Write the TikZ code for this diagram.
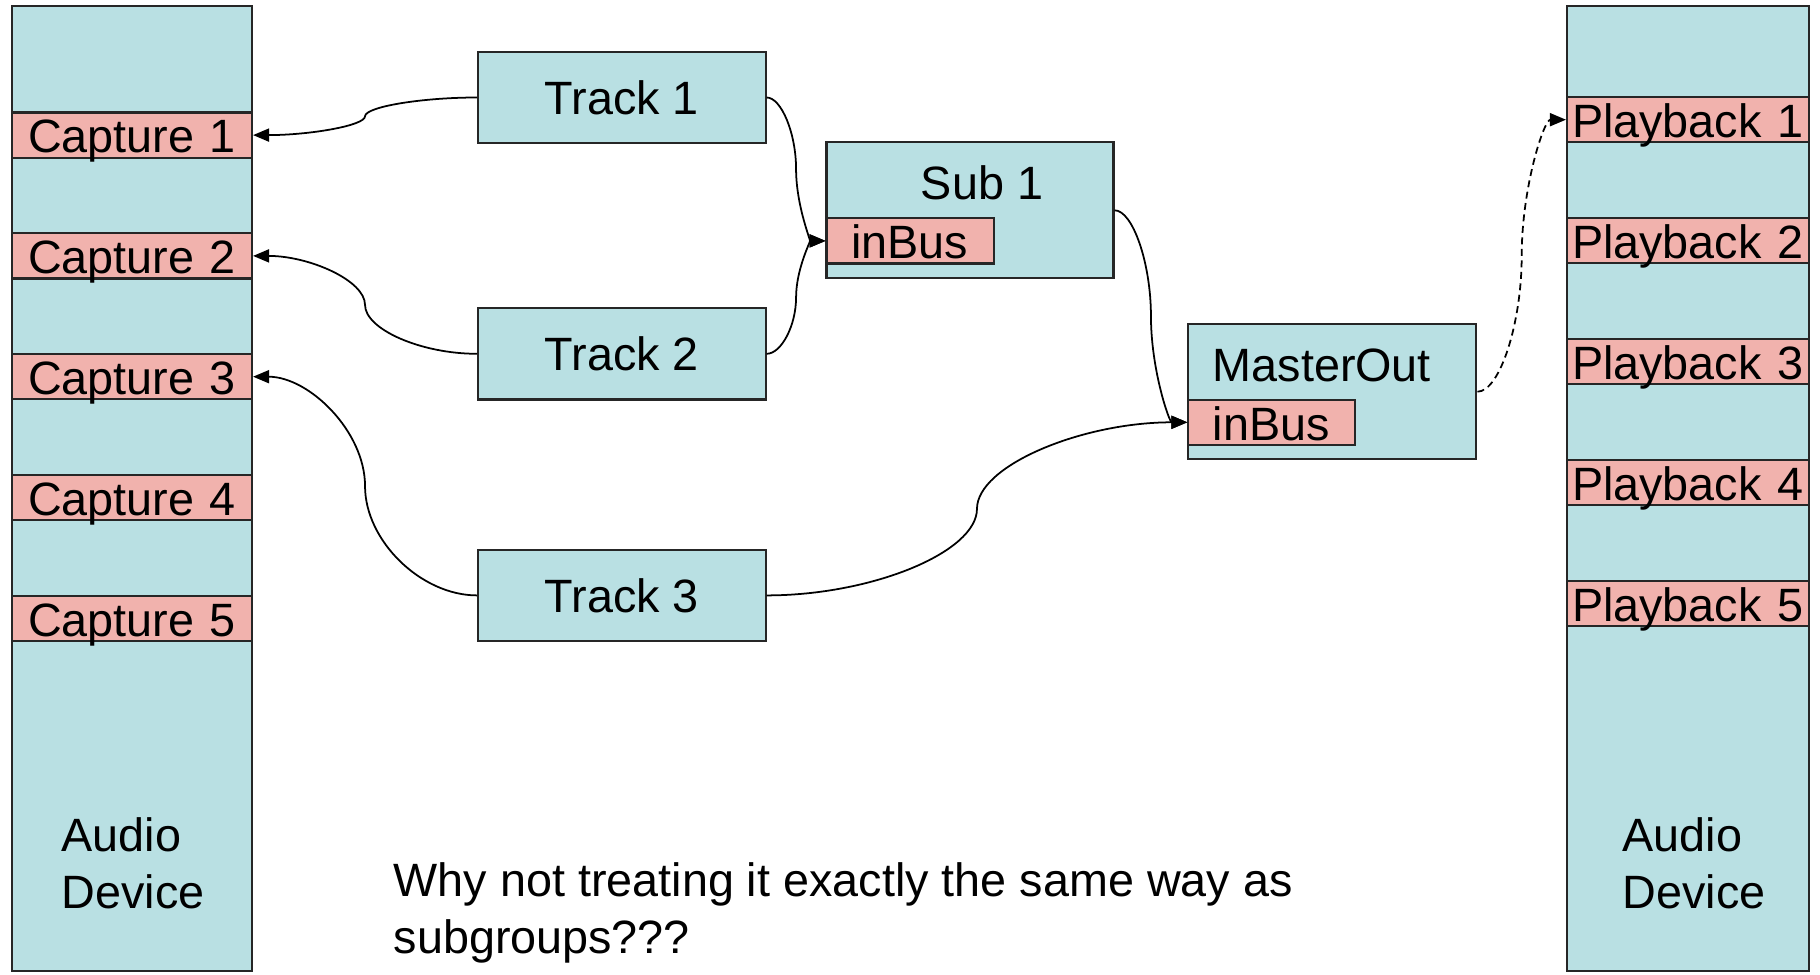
\documentclass[tikz,border=0pt]{standalone}
\usepackage{fontspec}
\setmainfont{Liberation Sans}
\usetikzlibrary{arrows.meta,calc}
\definecolor{devblue}{RGB}{185,224,227}
\definecolor{portpink}{RGB}{241,178,173}
\tikzset{
blockbox/.style={
  draw=black!85,line width=0.6pt,fill=devblue,inner sep=0pt},
trackbox/.style={
  blockbox,minimum width=28.75mm,minimum height=9.15mm},
portbox/.style={
  draw=black!85,line width=0.6pt,fill=portpink,inner ysep=0pt,
  minimum height=4.53mm,text height=3.55mm,text depth=0pt,align=left},
caption/.style={inner sep=0pt,align=left},
wire/.style={
  line width=0.5pt,-{Triangle[length=1.6mm,width=1.3mm]},
  to path={let \p1=(\tikztostart),\p2=(\tikztotarget) in
    .. controls ({0.75*\x1+0.25*\x2},\y1) and ({0.5*\x1+0.5*\x2},{0.75*\y1+0.25*\y2})
    .. ({0.5*\x1+0.5*\x2},{0.5*\y1+0.5*\y2})
    .. controls ({0.5*\x1+0.5*\x2},{0.25*\y1+0.75*\y2}) and ({0.25*\x1+0.75*\x2},\y2)
    .. (\tikztotarget)}}}
\begin{document}
\begin{tikzpicture}[x=0.1mm,y=0.1mm,font=\fontsize{13.3}{16.2}\selectfont]
\useasboundingbox (0,0) rectangle (1820,974);
% audio devices
\node[blockbox,minimum width=24mm,minimum height=96.5mm] (capdev) at (132,485.5) {};
\node[blockbox,minimum width=24.2mm,minimum height=96.5mm] (playdev) at (1688,485.5) {};
\foreach \i in {1,...,5}{
  \node[portbox,text width=20.8mm,inner xsep=1.6mm] (cap\i) at (132,{838.9-120.8*(\i-1)}) {Capture \i};
  \node[portbox,text width=23.2mm,inner xsep=0.5mm] (play\i) at (1688,{854.3-120.9*(\i-1)}) {Playback \i};
}
\node[caption,anchor=west] (capname) at (61,111) {Audio\\Device};
\node[caption,anchor=west] (playname) at (1622,111) {Audio\\Device};

% tracks
\node[trackbox] (track1) at (621.8,876.5) {Track 1};
\node[trackbox] (track2) at (621.8,620.2) {Track 2};
\node[trackbox] (track3) at (621.8,378.6) {Track 3};

% sub group and master
\node[blockbox,minimum width=28.7mm,minimum height=13.6mm] (sub1) at (970,763.7) {};
\node[caption,anchor=base] (sub1name) at (982,774) {Sub 1};
\node[portbox,text width=11.8mm,inner xsep=2.45mm] (sub1bus) at (910.1,733.1) {inBus};
\node[blockbox,minimum width=28.8mm,minimum height=13.5mm] (master) at (1332.4,582.3) {};
\node[caption,anchor=base west] (mastername) at (1212,592.3) {MasterOut};
\node[portbox,text width=11.8mm,inner xsep=2.45mm] (masterbus) at (1271.9,551.7) {inBus};

\node[caption,anchor=north west] (question) at (393,112) {Why not treating it exactly the same way as\\subgroups???};

% connections
\draw[wire] (track1.west) to (cap1.east);
\draw[wire] (track2.west) to (cap2.east);
\draw[wire] (track3.west) to (cap3.east);
\draw[wire] (track1.east) to (sub1bus.west);
\draw[wire] (track2.east) to (sub1bus.west);
\draw[wire] (track3.east) to (masterbus.west);
\draw[wire] (sub1.east) to (masterbus.west);
\draw[wire,dash pattern=on 0.7mm off 0.45mm] (master.east) to (play1.west);
\end{tikzpicture}
\end{document}
